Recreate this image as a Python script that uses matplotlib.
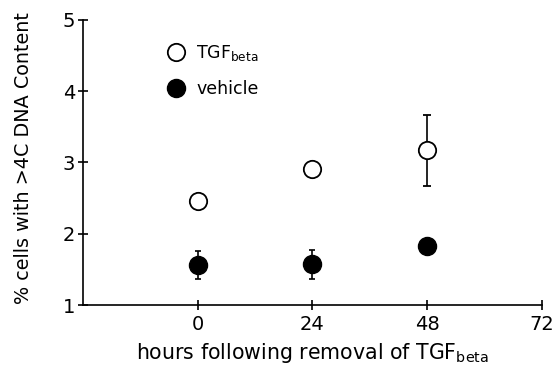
import matplotlib
matplotlib.use("Agg")
import matplotlib.pyplot as plt
from matplotlib.lines import Line2D

hours = [0, 24, 48]
tgf_mean = [2.46, 2.91, 3.17]
tgf_err = [0.0, 0.0, 0.50]
veh_mean = [1.56, 1.57, 1.83]
veh_err = [0.20, 0.20, 0.0]
xticks = [0, 24, 48, 72]
yticks = [1, 2, 3, 4, 5]

plt.rcParams['font.family'] = ['DejaVu Sans']
plt.rcParams['mathtext.fontset'] = 'dejavusans'
plt.rcParams['mathtext.default'] = 'regular'

fig = plt.figure(figsize=(5.57, 3.68), dpi=100)
ax = fig.add_axes([0.149, 0.171, 0.824, 0.775])

ax.errorbar(hours, tgf_mean, yerr=tgf_err, fmt='o', mfc='white', mec='black',
            mew=1.3, ms=12.5, ecolor='black', elinewidth=1.2, capsize=3, capthick=1.2,
            zorder=3)
ax.errorbar(hours, veh_mean, yerr=veh_err, fmt='o', mfc='black', mec='black',
            ms=13, ecolor='black', elinewidth=1.2, capsize=2, capthick=1.2, zorder=3)

ax.set_xlim(-24, 72)
ax.set_ylim(1, 5)
ax.set_xticks(xticks)
ax.set_yticks(yticks)
ax.tick_params(direction='inout', length=7, width=1.2, labelsize=14, pad=4)
ax.tick_params(axis='y', pad=2)
for s in ['top', 'right']:
    ax.spines[s].set_visible(False)
for s in ['left', 'bottom']:
    ax.spines[s].set_linewidth(1.2)

ax.set_xlabel(r'hours following removal of TGF$_{beta}$', fontsize=14.8, labelpad=5)
ax.set_ylabel('% cells with >4C DNA Content', fontsize=13.8, labelpad=20)
ax.yaxis.set_label_coords(-0.108, 0.515)

handles = [
    Line2D([], [], ls='none', marker='o', mfc='white', mec='black', mew=1.3, ms=12.5),
    Line2D([], [], ls='none', marker='o', mfc='black', mec='black', ms=13),
]
ax.legend(handles, [r'TGF$_{beta}$', 'vehicle'], loc='upper left',
          bbox_to_anchor=(0.13, 0.975), frameon=False, fontsize=12.5,
          handletextpad=0.2, labelspacing=1.0)

fig.savefig('out.png', dpi=100)
